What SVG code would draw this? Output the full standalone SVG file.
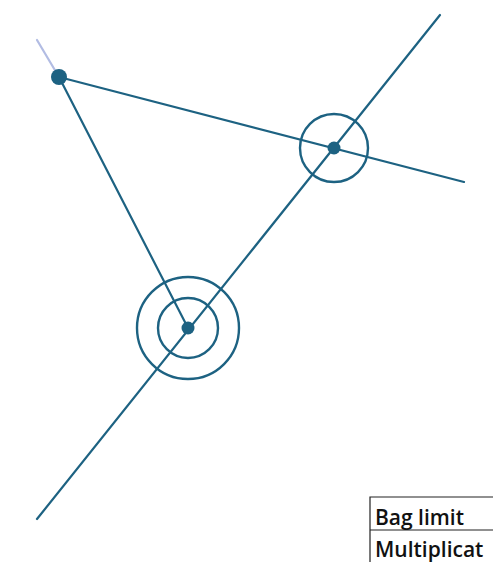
<svg xmlns="http://www.w3.org/2000/svg" width="493" height="562" viewBox="0 0 493 562">
<style>
.ln{stroke:#1d6282;stroke-width:2.2;fill:none;stroke-linecap:round}
.ring{stroke:#1d6282;stroke-width:2.4;fill:none}
.nd{fill:#1d6282}
.tb{stroke:#222;stroke-width:1.2;fill:none}
.tx{font-family:"Open Sans","Liberation Sans",sans-serif;font-weight:600;font-size:21px;fill:#111}
</style>
<g id="connectors">
<line class="ln" x1="37" y1="40" x2="59" y2="77" style="stroke:#7f8fd0;opacity:0.6"/>
<line class="ln" x1="59" y1="77" x2="464" y2="182"/>
<line class="ln" x1="59" y1="77" x2="188" y2="328"/>
<line class="ln" x1="440" y1="15" x2="37" y2="519"/>
</g>
<g id="node-a"><circle class="nd" cx="59" cy="77" r="8"/></g>
<g id="node-b"><circle class="ring" cx="334" cy="148" r="34"/><circle class="nd" cx="334" cy="148" r="6.5"/></g>
<g id="node-c"><circle class="ring" cx="188" cy="328" r="30"/><circle class="ring" cx="188" cy="328" r="51"/><circle class="nd" cx="188" cy="328" r="6.5"/></g>
<g id="table">
<path class="tb" d="M370 562 V497 H493 M370 530 H493"/>
<text class="tx" x="375" y="525">Bag limit</text>
<text class="tx" x="375" y="557">Multiplicat</text>
</g>
</svg>
